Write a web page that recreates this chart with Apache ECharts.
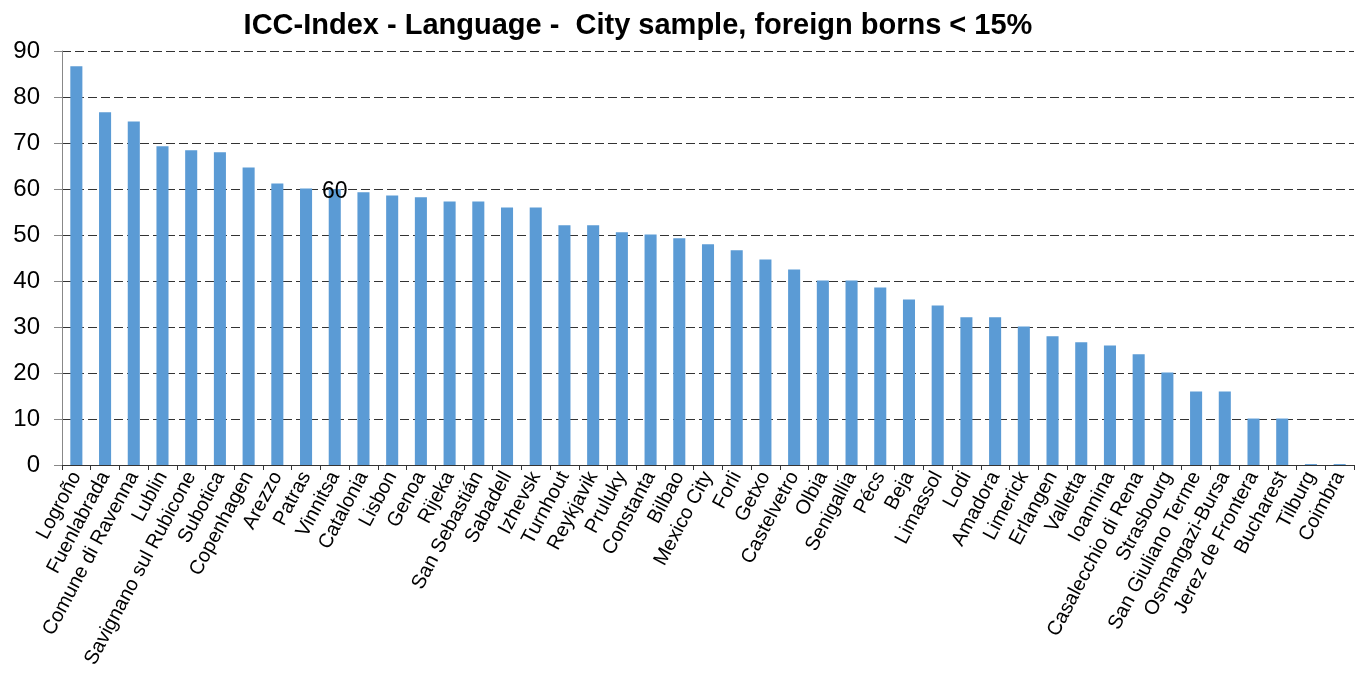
<!DOCTYPE html>
<html>
<head>
<meta charset="utf-8">
<script src="https://cdn.jsdelivr.net/npm/echarts@6/dist/echarts.min.js"></script>
<style>html,body{margin:0;padding:0;background:#fff}#c{width:1363px;height:675px}</style>
</head>
<body>
<div id="c"></div>
<script>
const categories = ["Logroño","Fuenlabrada","Comune di Ravenna","Lublin","Savignano sul Rubicone","Subotica","Copenhagen","Arezzo","Patras","Vinnitsa","Catalonia","Lisbon","Genoa","Rijeka","San Sebastián","Sabadell","Izhevsk","Turnhout","Reykjavik","Pruluky","Constanta","Bilbao","Mexico City","Forli","Getxo","Castelvetro","Olbia","Senigallia","Pécs","Beja","Limassol","Lodi","Amadora","Limerick","Erlangen","Valletta","Ioannina","Casalecchio di Rena","Strasbourg","San Giuliano Terme","Osmangazi-Bursa","Jerez de Frontera","Bucharest","Tilburg","Coimbra"];
const values = [86.7,76.7,74.7,69.3,68.4,68.0,64.7,61.2,60.1,60,59.3,58.6,58.2,57.3,57.3,56.0,56.0,52.1,52.1,50.6,50.1,49.3,48.0,46.7,44.7,42.5,40.1,40.1,38.6,36.0,34.7,32.1,32.1,30.1,28.0,26.7,26.0,24.1,20.1,16.0,16.0,10.1,10.1,0.2,0.2];
const labelledCity = "Vinnitsa";
const yTicks = [0,10,20,30,40,50,60,70,80,90];

const chart = echarts.init(document.getElementById('c'));
chart.setOption({
  animation: false,
  title: {
    text: 'ICC-Index - Language -  City sample, foreign borns < 15%',
    left: 633, textAlign: 'center', top: 6,
    textStyle: {fontFamily: 'Liberation Sans, Arial, sans-serif', fontWeight: 'bold', fontSize: 29, color: '#000'}
  },
  grid: {left: 62, right: 9, top: 51, bottom: 210, containLabel: false},
  xAxis: {
    type: 'category', data: categories,
    axisLine: {lineStyle: {color: '#333', width: 1}},
    axisTick: {show: true, alignWithLabel: false, length: 5, lineStyle: {color: '#333'}},
    axisLabel: {interval: 0, rotate: 62, fontSize: 20, color: '#000', margin: 8, fontFamily: 'Liberation Sans, Arial, sans-serif'}
  },
  yAxis: {
    type: 'value', min: yTicks[0], max: yTicks[yTicks.length-1], interval: 10,
    axisLine: {show: true, lineStyle: {color: '#888', width: 1}},
    axisTick: {show: true, length: 8, inside: false, lineStyle: {color: '#888'}},
    axisLabel: {fontSize: 24, color: '#000', margin: 22, fontFamily: 'Liberation Sans, Arial, sans-serif'},
    splitLine: {show: true, lineStyle: {color: '#333', type: [9, 4], width: 1}}
  },
  series: [{
    type: 'bar',
    data: values.map((v, i) => categories[i] === labelledCity ? {
      value: v,
      label: {show: true, position: 'top', distance: -14, formatter: '{c}', fontSize: 23, color: '#000', fontFamily: 'Liberation Sans, Arial, sans-serif'}
    } : v),
    barCategoryGap: '58%',
    itemStyle: {color: '#5B9BD5'}
  }]
});
</script>
</body>
</html>
